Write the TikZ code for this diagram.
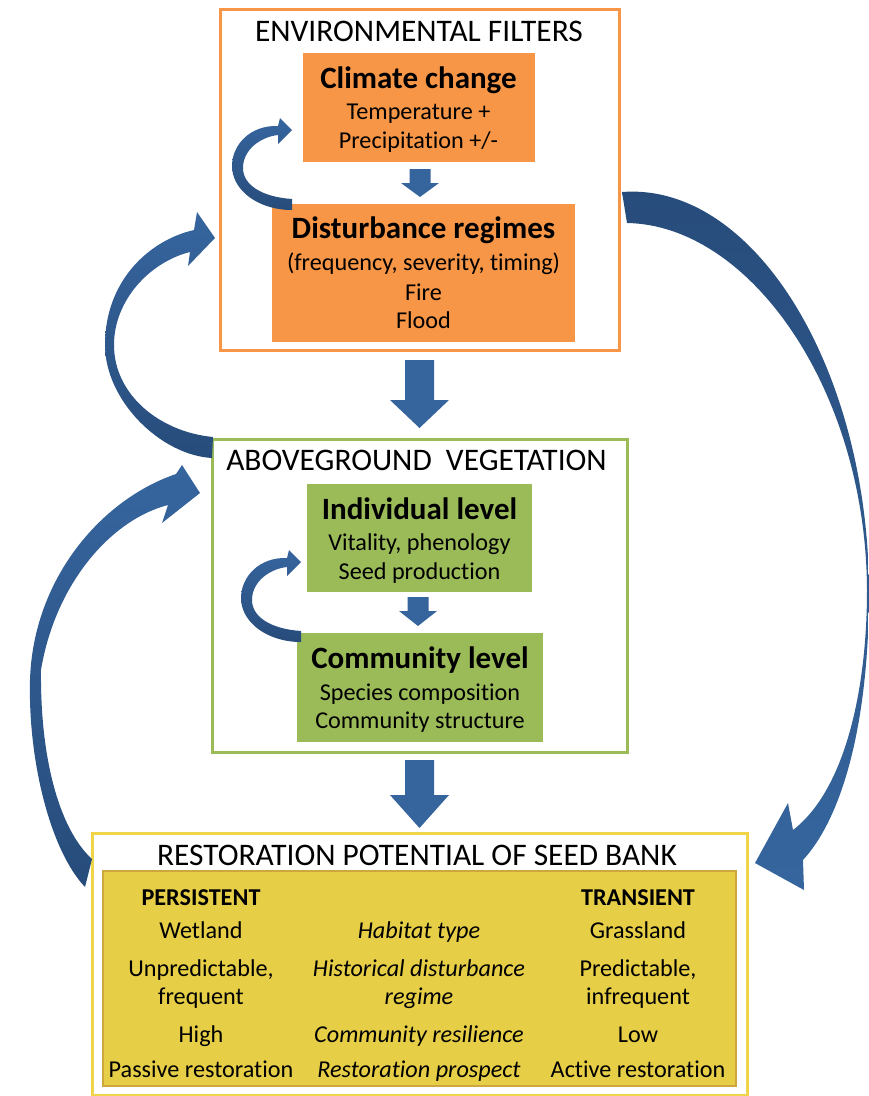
\documentclass[tikz,border=0pt]{standalone}
\usepackage{fontspec}
\setmainfont{Carlito}[Ligatures=NoCommon]
\usetikzlibrary{calc}
\definecolor{orF}{HTML}{F79646}
\definecolor{grF}{HTML}{9BBB59}
\definecolor{yeF}{HTML}{E6CE47}
\definecolor{yeIn}{HTML}{CFA63C}
\definecolor{yeOut}{HTML}{F0D54A}
\definecolor{arrowblue}{HTML}{36659E}
\definecolor{arrowdark}{HTML}{274C7B}
\newcommand{\fs}[1]{\fontsize{#1}{#1}\selectfont}
\newcommand{\blockarrow}[6]{%
  \fill[arrowblue] (#1-#5,#2) -- (#1+#5,#2) -- (#1+#5,#3) -- (#1+#6,#3) -- (#1,#4) -- (#1-#6,#3) -- (#1-#5,#3) -- cycle;}
\begin{document}
\begin{tikzpicture}[x=1pt,y=-1pt,
  frame/.style={rectangle,inner sep=0pt,outer sep=0pt,fill=white},
  fillbox/.style={rectangle,inner sep=0pt,outer sep=0pt},
  ttl/.style={anchor=base,font=\fs{31.4},inner sep=0pt},
  hdr/.style={anchor=base,font=\fs{31}\bfseries,inner sep=0pt},
  txt/.style={anchor=base,font=\fs{24.2},inner sep=0pt},
  cell/.style={anchor=base,font=\fs{24.2},inner sep=0pt},
  celli/.style={anchor=base,font=\fs{24.2}\itshape,inner sep=0pt},
  cellb/.style={anchor=base,font=\fs{24.2}\bfseries,inner sep=0pt},
  lightdown/.style={top color=arrowblue,bottom color=arrowdark},
  darkdown/.style={top color=arrowdark,bottom color=arrowblue}]
\useasboundingbox (0,0) rectangle (869,1096);

% ---------- top box ----------
\node[frame,draw=orF,line width=3pt,minimum width=399pt,minimum height=341pt] (env) at (419.5,179.5) {};
\node[fillbox,fill=orF,minimum width=232pt,minimum height=109pt] (clim) at (418.5,107.5) {};
\node[fillbox,fill=orF,minimum width=303pt,minimum height=138pt] (dist) at (423.5,273) {};
\node[ttl] (envT) at (419,41) {ENVIRONMENTAL FILTERS};
\node[hdr] (climT) at (418.5,88) {Climate change};
\node[txt] (climA) at (418.5,119) {Temperature +};
\node[txt] (climB) at (418.5,148) {Precipitation +/-};
\node[hdr] (distT) at (423.5,238) {Disturbance regimes};
\node[txt] (distA) at (423.5,270) {(frequency, severity, timing)};
\node[txt] (distB) at (423.5,300) {Fire};
\node[txt] (distC) at (423.5,328) {Flood};

% ---------- middle box ----------
\node[frame,draw=grF,line width=3pt,minimum width=415pt,minimum height=313pt] (veg) at (419.5,595.5) {};
\node[fillbox,fill=grF,minimum width=225pt,minimum height=108pt] (indiv) at (419.5,538) {};
\node[fillbox,fill=grF,minimum width=246pt,minimum height=109pt] (comm) at (420,687.5) {};
\node[ttl] (vegT) at (416.5,470) {ABOVEGROUND\ \ VEGETATION};
\node[hdr] (indivT) at (419.5,519) {Individual level};
\node[txt] (indivA) at (419.5,550) {Vitality, phenology};
\node[txt] (indivB) at (419.5,579) {Seed production};
\node[hdr] (commT) at (420,668) {Community level};
\node[txt] (commA) at (420,700) {Species composition};
\node[txt] (commB) at (420,728) {Community structure};

% ---------- bottom box ----------
\node[frame,draw=yeOut,line width=3pt,minimum width=655pt,minimum height=262pt] (seed) at (419.5,964) {};
\node[fillbox,fill=yeF,draw=yeIn,line width=1.5pt,minimum width=633pt,minimum height=215pt] (tab) at (419.5,978.5) {};
\node[ttl] (seedT) at (417,865) {RESTORATION POTENTIAL OF SEED BANK};
\node[cellb] (p0) at (201,905) {PERSISTENT};
\node[cellb] (t0) at (638,905) {TRANSIENT};
\node[cell]  (p1) at (201,938) {Wetland};
\node[celli] (m1) at (419,938) {Habitat type};
\node[cell]  (t1) at (638,938) {Grassland};
\node[cell]  (p2) at (201,976) {Unpredictable,};
\node[celli] (m2) at (419,976) {Historical disturbance};
\node[cell]  (t2) at (638,976) {Predictable,};
\node[cell]  (p3) at (201,1004) {frequent};
\node[celli] (m3) at (419,1004) {regime};
\node[cell]  (t3) at (638,1004) {infrequent};
\node[cell]  (p4) at (201,1042) {High};
\node[celli] (m4) at (419,1042) {Community resilience};
\node[cell]  (t4) at (638,1042) {Low};
\node[cell]  (p5) at (201,1077) {Passive restoration};
\node[celli] (m5) at (419,1077) {Restoration prospect};
\node[cell]  (t5) at (638,1077) {Active restoration};

% ---------- straight block arrows ----------
\blockarrow{420}{169}{183}{197}{10.5}{19}
\blockarrow{418}{597}{611}{626}{10.5}{19}
\blockarrow{419.5}{360}{400}{428}{14.5}{29.5}
\blockarrow{419.5}{760}{795}{828}{14.5}{29.5}

% ---------- small loop arrows ----------
\shade[lightdown] (292,199) .. controls (262,197) and (243,185) .. (243,168)
  .. controls (243,150) and (260,137) .. (278,135) -- (278,144) -- (292,130) -- (280,118) -- (278,126)
  .. controls (250,125) and (232,145) .. (232,166) .. controls (232,190) and (258,210) .. (292,210) -- cycle;
\begin{scope}[shift={(9,432)}]
\shade[lightdown] (292,199) .. controls (262,197) and (243,185) .. (243,168)
  .. controls (243,150) and (260,137) .. (278,135) -- (278,144) -- (292,130) -- (280,118) -- (278,126)
  .. controls (250,125) and (232,145) .. (232,166) .. controls (232,190) and (258,210) .. (292,210) -- cycle;
\end{scope}

% ---------- big curved arrows ----------
% vegetation -> environmental filters
\shade[lightdown] (213,437) .. controls (160,432) and (114,395) .. (114,345)
  .. controls (114,300) and (150,262) .. (190,252) -- (188,266) -- (215,238) -- (197,212) -- (194,230)
  .. controls (150,240) and (105,280) .. (105,345) .. controls (105,400) and (160,455) .. (212,458) -- cycle;
% seed bank -> vegetation
\shade[lightdown] (92,859) .. controls (60,830) and (40,760) .. (41,670)
  .. controls (55,585) and (110,520) .. (168,505) -- (162,523) -- (200,493) -- (182,465) -- (176,474)
  .. controls (100,500) and (33,580) .. (30,680) .. controls (28,760) and (50,850) .. (85,887) -- cycle;
% environmental filters -> seed bank
\shade[darkdown] (622,192) .. controls (755,182) and (868,370) .. (869,590)
  .. controls (869,730) and (840,820) .. (803,860) -- (804,890) -- (755,863) -- (788,803) -- (793,830)
  .. controls (845,790) and (867,690) .. (867,590) .. controls (866,390) and (750,225) .. (627,223) -- cycle;
\end{tikzpicture}
\end{document}
